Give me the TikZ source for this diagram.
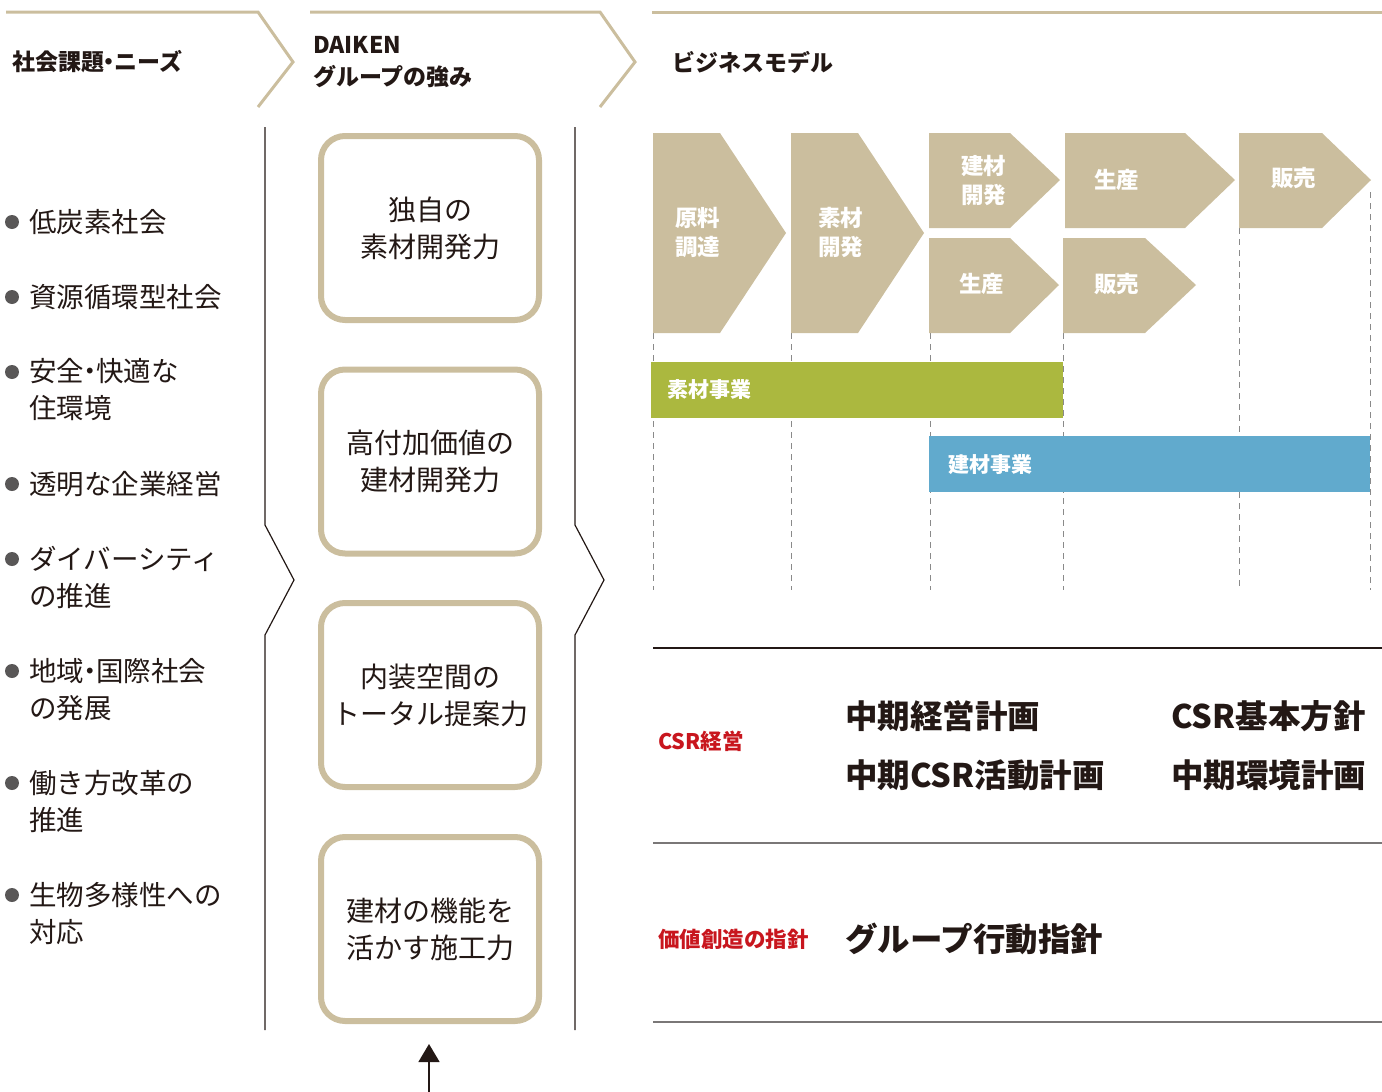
\documentclass[tikz,border=0pt]{standalone}
\usepackage{fontspec}
\setmainfont{Noto Sans CJK JP}
\usetikzlibrary{arrows.meta}
\definecolor{ink}{HTML}{231815}
\definecolor{tan}{HTML}{CBBE9E}
\definecolor{dotc}{HTML}{595757}
\definecolor{barg}{HTML}{ABB83F}
\definecolor{barb}{HTML}{61AACD}
\definecolor{redc}{HTML}{C8161E}
\definecolor{dashc}{HTML}{8A8A8A}
\definecolor{rulec}{HTML}{7A7777}
\newcommand{\ndot}{\kern-0.28em・\kern-0.28em}
\tikzset{
  hdr/.style={font=\bfseries\fontsize{23}{32}\selectfont, text=ink, anchor=west, inner sep=0, align=left},
  item/.style={font=\fontsize{27.5}{37}\selectfont, text=ink, anchor=west, inner sep=0, align=left},
  dotn/.style={circle, fill=dotc, minimum size=14, inner sep=0},
  sbox/.style={draw=tan, line width=6, rounded corners=24, minimum width=218, minimum height=184, align=center, font=\fontsize{28}{37}\selectfont, text=ink, inner sep=0},
  chv/.style={fill=tan},
  ctext/.style={font=\bfseries\fontsize{22.5}{29}\selectfont, text=white, anchor=west, inner sep=0, align=left},
  bartext/.style={font=\bfseries\fontsize{21}{24}\selectfont, text=white, anchor=west, inner sep=0},
  redlbl/.style={font=\bfseries\fontsize{21.5}{24}\selectfont, text=redc, anchor=west, inner sep=0},
  big/.style={font=\bfseries\fontsize{32.5}{36}\selectfont, text=ink, anchor=west, inner sep=0},
  hline/.style={draw=tan, line width=3},
  vline/.style={draw=ink, line width=1.2},
  dline/.style={draw=dashc, line width=1, dash pattern=on 6pt off 5pt},
}
\begin{document}
\begin{tikzpicture}[x=1pt,y=-1pt]
\useasboundingbox (0,0) rectangle (1382,1092);
% header lines
\coordinate (h1a) at (6,12); \coordinate (h1b) at (258,12); \coordinate (h1c) at (293,62); \coordinate (h1d) at (258,107);
\draw[hline, line join=miter] (h1a) -- (h1b) -- (h1c) -- (h1d);
\coordinate (h2a) at (310,12); \coordinate (h2b) at (600,12); \coordinate (h2c) at (635,62); \coordinate (h2d) at (600,107);
\draw[hline, line join=miter] (h2a) -- (h2b) -- (h2c) -- (h2d);
\coordinate (h3a) at (652,12); \coordinate (h3b) at (1382,12);
\draw[hline] (h3a) -- (h3b);
\node[hdr] (t1) at (12,62) {社会課題\ndot ニーズ};
\node[hdr] (t2) at (313,62) {DAIKEN\\グループの強み};
\node[hdr] (t3) at (672,62) {ビジネスモデル};
% vertical separators
\coordinate (v1a) at (265,127); \coordinate (v1b) at (265,525); \coordinate (v1c) at (294,580); \coordinate (v1d) at (265,635); \coordinate (v1e) at (265,1030);
\draw[vline] (v1a) -- (v1b) -- (v1c) -- (v1d) -- (v1e);
\coordinate (v2a) at (575,127); \coordinate (v2b) at (575,525); \coordinate (v2c) at (604,580); \coordinate (v2d) at (575,635); \coordinate (v2e) at (575,1030);
\draw[vline] (v2a) -- (v2b) -- (v2c) -- (v2d) -- (v2e);
% left list
\node[dotn] (d1) at (12,222) {}; \node[item] (l1) at (29,222) {低炭素社会};
\node[dotn] (d2) at (12,297) {}; \node[item] (l2) at (29,297) {資源循環型社会};
\node[dotn] (d3) at (12,372) {}; \node[item] (l3) at (29,390) {安全\ndot 快適な\\住環境};
\node[dotn] (d4) at (12,484) {}; \node[item] (l4) at (29,484) {透明な企業経営};
\node[dotn] (d5) at (12,559) {}; \node[item] (l5) at (29,577.5) {ダイバーシティ\\の推進};
\node[dotn] (d6) at (12,671) {}; \node[item] (l6) at (29,689.5) {地域\ndot 国際社会\\の発展};
\node[dotn] (d7) at (12,783) {}; \node[item] (l7) at (29,801.5) {働き方改革の\\推進};
\node[dotn] (d8) at (12,895) {}; \node[item] (l8) at (29,913.5) {生物多様性への\\対応};
% strength boxes
\node[sbox] (s1) at (430,228) {独自の\\素材開発力};
\node[sbox] (s2) at (430,461.5) {高付加価値の\\建材開発力};
\node[sbox] (s3) at (430,695) {内装空間の\\トータル提案力};
\node[sbox] (s4) at (430,929) {建材の機能を\\活かす施工力};
\coordinate (arS) at (429,1092); \coordinate (arE) at (429,1044);
\draw[draw=ink, line width=1.5, -{Triangle[width=21pt,length=18pt]}] (arS) -- (arE);
% dashed guides
\draw[dline] (653,333) -- (653,590);
\draw[dline] (791,333) -- (791,590);
\draw[dline] (930,333) -- (930,590);
\draw[dline] (1063,333) -- (1063,590);
\draw[dline] (1239,228) -- (1239,590);
\draw[dline] (1370,192) -- (1370,590);
% chevrons
\fill[chv] (653,133) -- (720,133) -- (786,233) -- (720,333) -- (653,333) -- cycle;
\fill[chv] (791,133) -- (858,133) -- (924,233) -- (858,333) -- (791,333) -- cycle;
\fill[chv] (929,133) -- (1010,133) -- (1060,180) -- (1010,228) -- (929,228) -- cycle;
\fill[chv] (1065,133) -- (1185,133) -- (1235,180) -- (1185,228) -- (1065,228) -- cycle;
\fill[chv] (1239,133) -- (1322,133) -- (1371,180) -- (1322,228) -- (1239,228) -- cycle;
\fill[chv] (929,238) -- (1010,238) -- (1059,285) -- (1010,333) -- (929,333) -- cycle;
\fill[chv] (1063,238) -- (1145,238) -- (1196,285) -- (1145,333) -- (1063,333) -- cycle;
\node[ctext] (c1) at (675,232) {原料\\調達};
\node[ctext] (c2) at (818,232) {素材\\開発};
\node[ctext] (c3) at (961,180) {建材\\開発};
\node[ctext] (c4) at (1094,180) {生産};
\node[ctext] (c5) at (1271,178) {販売};
\node[ctext] (c6) at (959,284) {生産};
\node[ctext] (c7) at (1094,284) {販売};
% bars
\node[fill=barg, minimum width=412, minimum height=56, anchor=north west, inner sep=0] (gb) at (651,362) {};
\node[bartext] (gbt) at (667,390) {素材事業};
\node[fill=barb, minimum width=441, minimum height=56, anchor=north west, inner sep=0] (bb) at (929,436) {};
\node[bartext] (bbt) at (948,465) {建材事業};
% rules
\coordinate (r1a) at (653,648); \coordinate (r1b) at (1382,648);
\coordinate (r2a) at (653,843); \coordinate (r2b) at (1382,843);
\coordinate (r3a) at (653,1022); \coordinate (r3b) at (1382,1022);
\draw[draw=ink, line width=1.2] (r1a) -- (r1b);
\draw[draw=rulec, line width=1.6] (r2a) -- (r2b);
\draw[draw=rulec, line width=1.6] (r3a) -- (r3b);
\node[redlbl] (csr) at (658,741) {CSR経営};
\node[big] (m1) at (845,716) {中期経営計画};
\node[big] (m2) at (1171,716) {CSR基本方針};
\node[big] (m3) at (845,775) {中期CSR活動計画};
\node[big] (m4) at (1171,775) {中期環境計画};
\node[redlbl] (val) at (658,939) {価値創造の指針};
\node[big] (m5) at (845,939) {グループ行動指針};
\end{tikzpicture}
\end{document}
